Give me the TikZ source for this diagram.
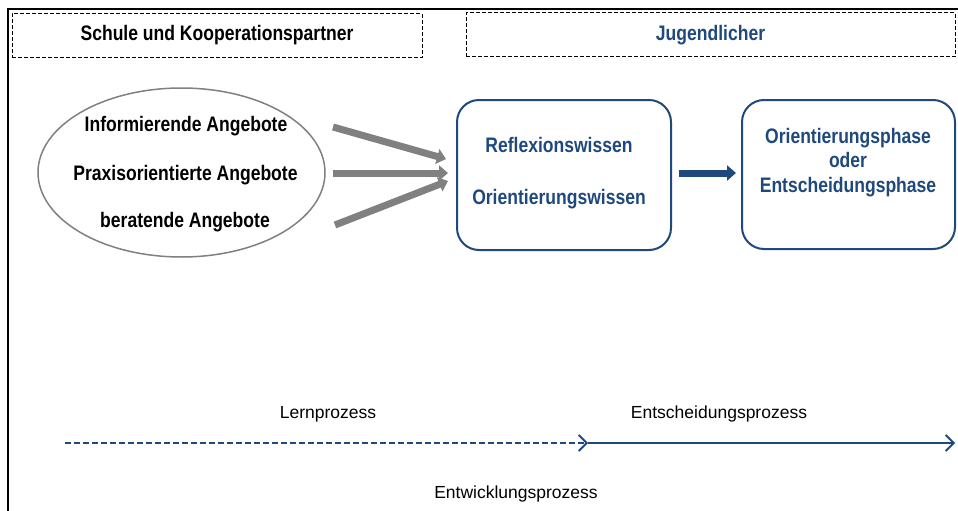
\documentclass[tikz,border=0pt]{standalone}
\usepackage{fontspec}
\setmainfont{Liberation Sans}
\newfontfamily\narrowfont{Liberation Sans}[FakeStretch=0.835]
\usetikzlibrary{arrows.meta,shapes.geometric}
\definecolor{dblue}{RGB}{31,73,125}
\definecolor{agray}{RGB}{128,128,128}
\tikzset{
  hdrbox/.style={draw=black, line width=1pt, dash pattern=on 4pt off 2pt, minimum height=44pt, inner sep=0pt},
  boldtxt/.style={font=\narrowfont\fontsize{21}{24.5}\selectfont\bfseries, inner sep=0pt},
  regtxt/.style={font=\fontsize{17.5}{21}\selectfont, inner sep=0pt},
  bluebox/.style={draw=dblue, line width=2pt, rounded corners=22pt, inner sep=0pt},
  grayarrow/.style={draw=agray, line width=7pt, -{Triangle[length=9pt,width=15pt]}},
  bluearrow/.style={draw=dblue, line width=7pt, -{Triangle[length=9pt,width=15pt]}},
  procline/.style={draw=dblue, line width=1.8pt},
}
\begin{document}
\begin{tikzpicture}[x=1pt,y=-1pt]
\useasboundingbox (0,0) rectangle (958,511);
% outer frame
\draw[line width=2.2pt] (8,511) -- (8,9) -- (958,9);
% header boxes
\node[hdrbox, minimum width=410pt] (h1) at (217,35.5) {};
\node[boldtxt] at (h1.center) {Schule und Kooperationspartner};
\node[hdrbox, minimum width=489pt] (h2) at (710.5,35) {};
\node[boldtxt, text=dblue] at (h2.center) {Jugendlicher};
% ellipse
\node[ellipse, draw=agray, line width=1.5pt, minimum width=287pt, minimum height=169pt] (ell) at (181.5,172.5) {};
\node[boldtxt] (t1) at (186,126) {Informierende Angebote};
\node[boldtxt] (t2) at (185.5,175) {Praxisorientierte Angebote};
\node[boldtxt] (t3) at (185,222) {beratende Angebote};
% boxes
\node[bluebox, minimum width=214pt, minimum height=150pt] (b1) at (564,175) {};
\node[boldtxt, text=dblue] (r1) at (559,145) {Reflexionswissen};
\node[boldtxt, text=dblue] (r2) at (559,199) {Orientierungswissen};
\node[bluebox, minimum width=213pt, minimum height=149pt] (b2) at (848.5,174.5) {};
\node[boldtxt, text=dblue, align=center] (p) at (848,162.5) {Orientierungsphase\\oder\\Entscheidungsphase};
% gray arrows
\coordinate (g1s) at (333,127);
\coordinate (g1e) at (446,159);
\coordinate (g2s) at (333,173);
\coordinate (g2e) at (448,173);
\coordinate (g3s) at (335,225);
\coordinate (g3e) at (448,181);
\draw[grayarrow] (g1s) -- (g1e);
\draw[grayarrow] (g2s) -- (g2e);
\draw[grayarrow] (g3s) -- (g3e);
% blue arrow
\coordinate (ba) at (679,173);
\coordinate (bb) at (736,173);
\draw[bluearrow] (ba) -- (bb);
% process labels
\node[regtxt] (lern) at (328,414) {Lernprozess};
\node[regtxt] (ent) at (719,414) {Entscheidungsprozess};
\node[regtxt] (entw) at (516,494) {Entwicklungsprozess};
% process arrows
\coordinate (pa) at (65,443);
\coordinate (pb) at (588,443);
\coordinate (pc) at (955,443);
\draw[procline, dash pattern=on 6pt off 3pt, -{Straight Barb[length=8pt,width=16pt]}] (pa) -- (pb);
\draw[procline, -{Straight Barb[length=8pt,width=16pt]}] (pb) -- (pc);
\end{tikzpicture}
\end{document}
